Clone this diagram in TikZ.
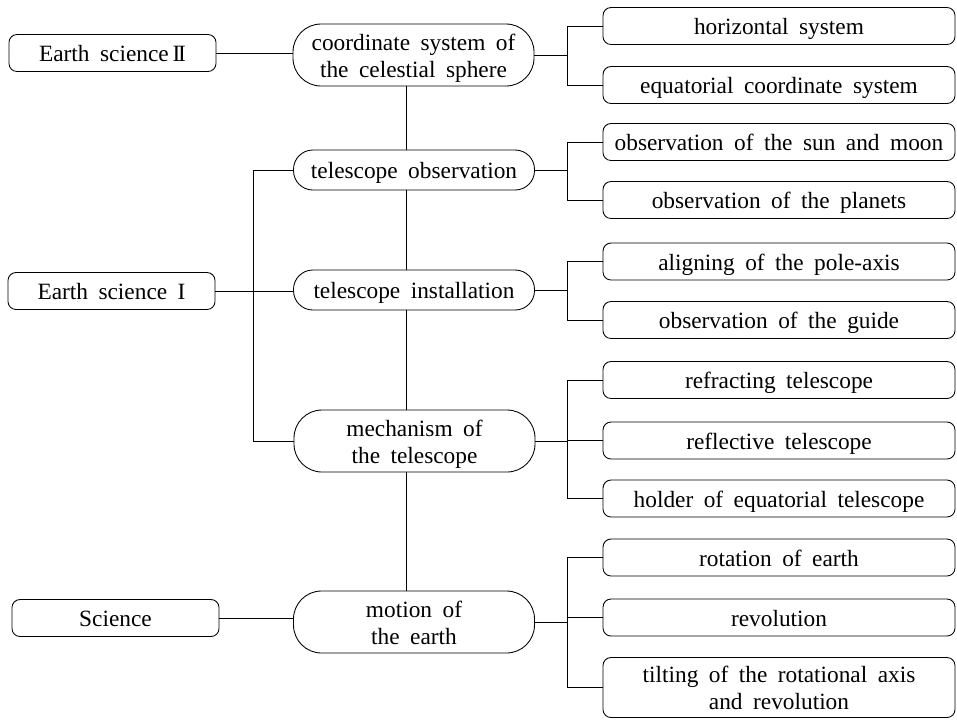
\documentclass[tikz,border=0pt]{standalone}
\usepackage{fontspec}
\setmainfont[WordSpace=1.8]{Liberation Serif}
% centred text block, set a little below the node's middle
\newcommand\lbl[1]{\raisebox{-2.5pt}[\height][\depth]{\begin{tabular}{@{}c@{}}#1\end{tabular}}}
\begin{document}
\begin{tikzpicture}[x=0.75pt,y=-0.75pt,line width=0.65pt,
  every node/.style={font=\fontsize{17.5}{20.5}\selectfont, inner sep=0pt},
  subject/.style={draw, minimum width=207*0.75pt, minimum height=37*0.75pt, rounded corners=6pt},
  topic/.style={draw, minimum width=241*0.75pt, minimum height=40*0.75pt, rounded corners=14.5pt},
  topictwo/.style={draw, minimum width=241*0.75pt, minimum height=62*0.75pt, rounded corners=21pt},
  leaf/.style={draw, minimum width=352*0.75pt, minimum height=37*0.75pt, rounded corners=6pt},
  leaftwo/.style={leaf, minimum height=60*0.75pt}]
\useasboundingbox (0,0) rectangle (957,719);

% school subjects
\node[subject] (es2) at (112.5,53) {\lbl{Earth science\,I\kern-0.1em I}};
\node[subject] (es1) at (111.5,291) {\lbl{Earth science I}};
\node[subject] (sci) at (115.5,618) {\lbl{Science}};

% central topics
\node[topictwo] (cs) at (413.5,55) {\lbl{coordinate system of\\the celestial sphere}};
\node[topic] (tobs) at (414,170) {\lbl{telescope observation}};
\node[topic] (tinst) at (414,290) {\lbl{telescope installation}};
\node[topictwo] (mech) at (414.5,441) {\lbl{mechanism of\\the telescope}};
\node[topictwo] (mot) at (414,622) {\lbl{motion of\\the earth}};

% sub-topics
\node[leaf] (l1) at (779,26) {\lbl{horizontal system}};
\node[leaf] (l2) at (779,85) {\lbl{equatorial coordinate system}};
\node[leaf] (l3) at (779,142) {\lbl{observation of the sun and moon}};
\node[leaf] (l4) at (779,200) {\lbl{observation of the planets}};
\node[leaf] (l5) at (779,261.5) {\lbl{aligning of the pole-axis}};
\node[leaf] (l6) at (779,320) {\lbl{observation of the guide}};
\node[leaf] (l7) at (779,380) {\lbl{refracting telescope}};
\node[leaf] (l8) at (779,440.5) {\lbl{reflective telescope}};
\node[leaf] (l9) at (779,498.5) {\lbl{holder of equatorial telescope}};
\node[leaf] (l10) at (779,557.5) {\lbl{rotation of earth}};
\node[leaf] (l11) at (779,617.5) {\lbl{revolution}};
\node[leaftwo] (l12) at (779,687.5) {\lbl{tilting of the rotational axis\\and revolution}};

% guide columns
\coordinate (busx) at (253,0);
\coordinate (spx) at (406,0);
\coordinate (brx) at (567,0);

% subjects to topics
\draw (es2.east) -- (es2.east -| cs.west);
\draw (es1.east) -- (es1.east -| tinst.west);
\draw (sci.east) -- (sci.east -| mot.west);
\draw (tobs.west) -- (tobs.west -| busx) -- (mech.west -| busx) -- (mech.west);

% central spine
\draw (cs.south -| spx) -- (tobs.north -| spx);
\draw (tobs.south -| spx) -- (tinst.north -| spx);
\draw (tinst.south -| spx) -- (mech.north -| spx);
\draw (mech.south -| spx) -- (mot.north -| spx);

% brackets to sub-topics
\draw (cs.east) -- (cs.east -| brx);
\draw (l1.west) -- (l1.west -| brx) -- (l2.west -| brx) -- (l2.west);
\draw (tobs.east) -- (tobs.east -| brx);
\draw (l3.west) -- (l3.west -| brx) -- (l4.west -| brx) -- (l4.west);
\draw (tinst.east) -- (tinst.east -| brx);
\draw (l5.west) -- (l5.west -| brx) -- (l6.west -| brx) -- (l6.west);
\draw (mech.east) -- (mech.east -| brx);
\draw (l7.west) -- (l7.west -| brx) -- (l9.west -| brx) -- (l9.west);
\draw (l8.west) -- (l8.west -| brx);
\draw (mot.east) -- (mot.east -| brx);
\draw (l10.west) -- (l10.west -| brx) -- (l12.west -| brx) -- (l12.west);
\draw (l11.west) -- (l11.west -| brx);
\end{tikzpicture}
\end{document}
